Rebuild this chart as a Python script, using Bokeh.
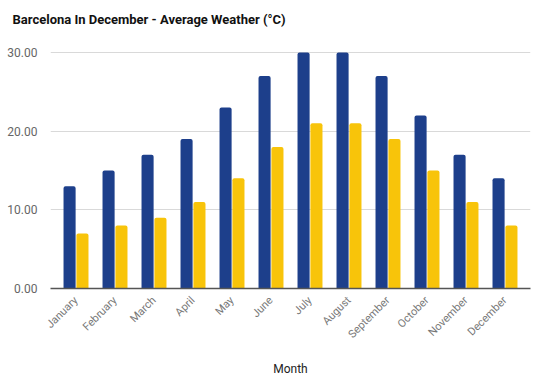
from math import pi
from bokeh.plotting import figure
from bokeh.models import FactorRange, Range1d, FixedTicker, Title, ColumnDataSource
from bokeh.transform import dodge
from bokeh.embed import file_html
from bokeh.resources import INLINE

months = ["January", "February", "March", "April", "May", "June", "July",
          "August", "September", "October", "November", "December"]
high_temp = [13, 15, 17, 19, 23, 27, 30, 30, 27, 22, 17, 14]
low_temp = [7, 8, 9, 11, 14, 18, 21, 21, 19, 15, 11, 8]
y_ticks = [0, 10, 20, 30]
y_max = 32.92

source = ColumnDataSource(dict(month=months, high=high_temp, low=low_temp))

FONT = "Roboto"

p = figure(x_range=FactorRange(factors=months, range_padding=0.154, range_padding_units="absolute"),
           y_range=Range1d(0, y_max),
           width=553, height=389, output_backend="svg", toolbar_location=None,
           min_border_left=50, min_border_right=23, min_border_top=29, min_border_bottom=101)

p.vbar(x=dodge("month", -0.165, range=p.x_range), top="high", width=0.31, bottom=0,
       source=source, fill_color="#1d3f8b", line_color=None, border_radius=(2, 2, 0, 0))
p.vbar(x=dodge("month", 0.165, range=p.x_range), top="low", width=0.31, bottom=0,
       source=source, fill_color="#f8c40a", line_color=None, border_radius=(2, 2, 0, 0))

p.title = Title(text="Barcelona In December - Average Weather (°C)", text_font=FONT,
                text_font_size="13px", text_font_style="bold", text_color="#111111",
                offset=-38, standoff=6)

p.outline_line_color = None
p.xgrid.grid_line_color = None
p.ygrid.grid_line_color = "#d9d9d9"
p.ygrid.ticker = FixedTicker(ticks=y_ticks)

p.yaxis.ticker = FixedTicker(ticks=y_ticks)
p.yaxis.axis_line_color = None
p.yaxis.major_tick_line_color = None
p.yaxis.minor_tick_line_color = None
p.yaxis.major_label_overrides = {t: f"{t:.2f}" for t in y_ticks}
p.yaxis.major_label_text_font = FONT
p.yaxis.major_label_text_font_size = "12px"
p.yaxis.major_label_text_color = "#666666"
p.yaxis.major_label_standoff = 7

p.xaxis.axis_line_color = "#555555"
p.xaxis.axis_line_width = 1.5
p.xaxis.major_tick_line_color = None
p.xaxis.minor_tick_line_color = None
p.xaxis.major_label_orientation = pi / 4
p.xaxis.major_label_text_font = FONT
p.xaxis.major_label_text_font_size = "11px"
p.xaxis.major_label_text_color = "#777777"
p.xaxis.major_label_standoff = 4
p.xaxis.axis_label = "Month"
p.xaxis.axis_label_text_font = FONT
p.xaxis.axis_label_text_font_size = "12px"
p.xaxis.axis_label_text_font_style = "normal"
p.xaxis.axis_label_text_color = "#222222"
p.xaxis.axis_label_standoff = 14

open("out.html", "w").write(file_html(p, INLINE))
